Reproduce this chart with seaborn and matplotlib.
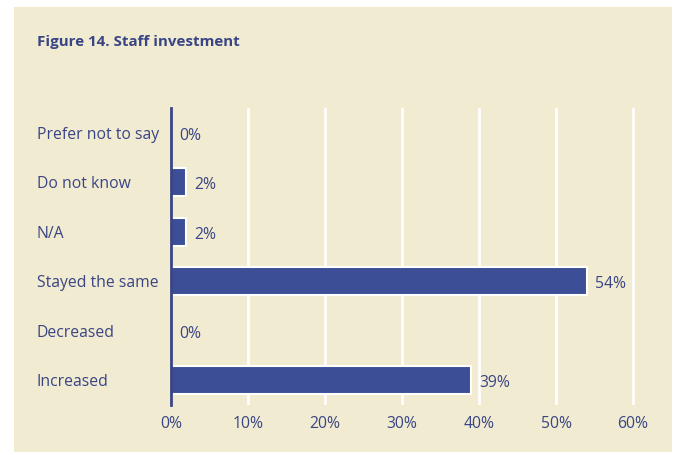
import matplotlib
matplotlib.use("Agg")
import matplotlib.pyplot as plt
from matplotlib.patches import Rectangle
import seaborn as sns
import pandas as pd

categories = ["Prefer not to say", "Do not know", "N/A", "Stayed the same", "Decreased", "Increased"]
values = [0, 2, 2, 54, 0, 39]
x_ticks = [0, 10, 20, 30, 40, 50, 60]
x_tick_labels = ["0%", "10%", "20%", "30%", "40%", "50%", "60%"]
title = "Figure 14. Staff investment"

BG = "#F1EBD1"
BAR = "#3C4E96"
TEXT = "#3A4585"
FONT = ["Open Sans", "DejaVu Sans"]
FS = 11.3

sns.set_theme(style="white")
plt.rcParams["font.family"] = FONT

df = pd.DataFrame({"category": categories, "value": values})

fig = plt.figure(figsize=(6.85, 4.55), dpi=100)
fig.patch.set_facecolor("white")
fig.patches.append(Rectangle((14 / 685, 1 - 452 / 455), (672 - 14) / 685, (452 - 7) / 455,
                             transform=fig.transFigure, facecolor=BG, edgecolor="none", zorder=-10))

ax = fig.add_axes([171 / 685, 1 - 405 / 455, (636 - 171) / 685, (405 - 108) / 455])
ax.patch.set_alpha(0)

sns.barplot(data=df, y="category", x="value", order=categories, orient="h",
            color=BAR, saturation=1, width=0.57, edgecolor="white", linewidth=1.5, ax=ax, zorder=3)

ax.set_xlim(0, 60 * 465 / 462)
ax.set_ylim(5.5, -0.5)
ax.set_xticks(x_ticks)
ax.set_xticklabels(x_tick_labels)
ax.grid(axis="x", color="white", linewidth=2, zorder=1)
ax.set_axisbelow(True)
ax.set_xlabel("")
ax.set_ylabel("")

for s in ["top", "right", "bottom"]:
    ax.spines[s].set_visible(False)
ax.spines["left"].set_color(TEXT)
ax.spines["left"].set_linewidth(2)
ax.spines["left"].set_zorder(5)

ax.tick_params(axis="both", length=0, colors=TEXT, labelsize=FS)
ax.tick_params(axis="x", pad=8)
ax.tick_params(axis="y", pad=96.5)
for lab in ax.get_yticklabels():
    lab.set_horizontalalignment("left")

for i, v in enumerate(values):
    ax.annotate(f"{v}%", xy=(v, i), xytext=(6, -2), textcoords="offset points",
                ha="left", va="center", color=TEXT, fontsize=FS)

fig.text(37 / 685, 1 - 42 / 455, title, ha="left", va="center", color=TEXT,
         fontsize=10.9, fontweight="bold")

fig.savefig("out.png", dpi=100, facecolor="white")
